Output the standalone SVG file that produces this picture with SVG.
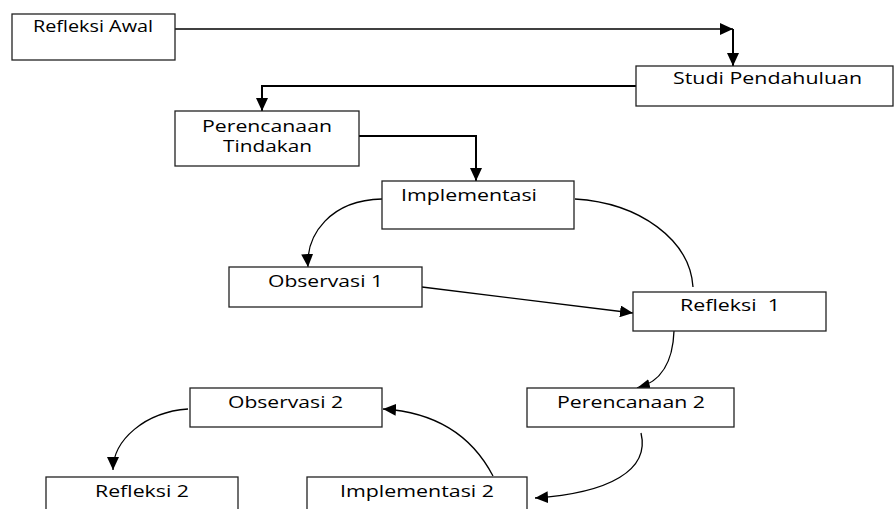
<svg xmlns="http://www.w3.org/2000/svg" width="894" height="509" viewBox="0 0 894 509">
<style>
.box{fill:#fff;stroke:#222;stroke-width:1.3}
.t{font-family:"Open Sans","DejaVu Sans",sans-serif;font-size:15.5px;fill:#000}
.c{fill:none;stroke:#000;stroke-width:1.3}
.k{fill:none;stroke:#000;stroke-width:2}
</style>
<defs>
<marker id="a" markerUnits="userSpaceOnUse" markerWidth="14" markerHeight="12" viewBox="0 0 14 12" refX="13" refY="6" orient="auto">
<path d="M0,0 L13,6 L0,12 Z" fill="#000"/>
</marker>
</defs>
<g id="connectors">
<path class="c" d="M175,29 H733" marker-end="url(#a)"/>
<path class="k" d="M733,29 V66" marker-end="url(#a)"/>
<path class="k" d="M636,86 H262 V111" marker-end="url(#a)"/>
<path class="k" d="M359,136 H476 V181" marker-end="url(#a)"/>
<path class="c" d="M382,199 C330,200 306,235 308,267" marker-end="url(#a)"/>
<path class="c" d="M575,199 C640,203 690,240 693,287"/>
<path class="c" d="M422,287 L633,313" marker-end="url(#a)"/>
<path class="c" d="M674,331 C673,360 662,382 637,388" marker-end="url(#a)"/>
<path class="c" d="M641,433 C650,470 610,493 535,498" marker-end="url(#a)"/>
<path class="c" d="M493,476 C470,432 432,412 383,409" marker-end="url(#a)"/>
<path class="c" d="M188,409 C145,412 113,440 113,470" marker-end="url(#a)"/>
</g>
<g id="refleksi-awal"><rect class="box" x="12" y="14" width="163" height="46"/><text class="t" x="33" y="32" textLength="120" lengthAdjust="spacingAndGlyphs">Refleksi Awal</text></g>
<g id="studi-pendahuluan"><rect class="box" x="636" y="66" width="257" height="40"/><text class="t" x="673" y="84" textLength="189" lengthAdjust="spacingAndGlyphs">Studi Pendahuluan</text></g>
<g id="perencanaan-tindakan"><rect class="box" x="175" y="111" width="184" height="55"/><text class="t" x="202" y="132" textLength="130" lengthAdjust="spacingAndGlyphs">Perencanaan</text><text class="t" x="223" y="152" textLength="89" lengthAdjust="spacingAndGlyphs">Tindakan</text></g>
<g id="implementasi"><rect class="box" x="382" y="181" width="192" height="48"/><text class="t" x="401" y="201" textLength="136" lengthAdjust="spacingAndGlyphs">Implementasi</text></g>
<g id="observasi-1"><rect class="box" x="229" y="267" width="193" height="40"/><text class="t" x="268" y="287" textLength="115" lengthAdjust="spacingAndGlyphs">Observasi 1</text></g>
<g id="refleksi-1"><rect class="box" x="633" y="292" width="193" height="39"/><text class="t" x="680" y="311" textLength="100" lengthAdjust="spacingAndGlyphs" xml:space="preserve">Refleksi  1</text></g>
<g id="perencanaan-2"><rect class="box" x="527" y="388" width="207" height="39"/><text class="t" x="557" y="408" textLength="148" lengthAdjust="spacingAndGlyphs">Perencanaan 2</text></g>
<g id="observasi-2"><rect class="box" x="190" y="388" width="192" height="39"/><text class="t" x="228" y="408" textLength="115" lengthAdjust="spacingAndGlyphs">Observasi 2</text></g>
<g id="refleksi-2"><rect class="box" x="46" y="477" width="192" height="40"/><text class="t" x="95" y="497" textLength="94" lengthAdjust="spacingAndGlyphs">Refleksi 2</text></g>
<g id="implementasi-2"><rect class="box" x="307" y="477" width="220" height="40"/><text class="t" x="340" y="497" textLength="154" lengthAdjust="spacingAndGlyphs">Implementasi 2</text></g>
</svg>
